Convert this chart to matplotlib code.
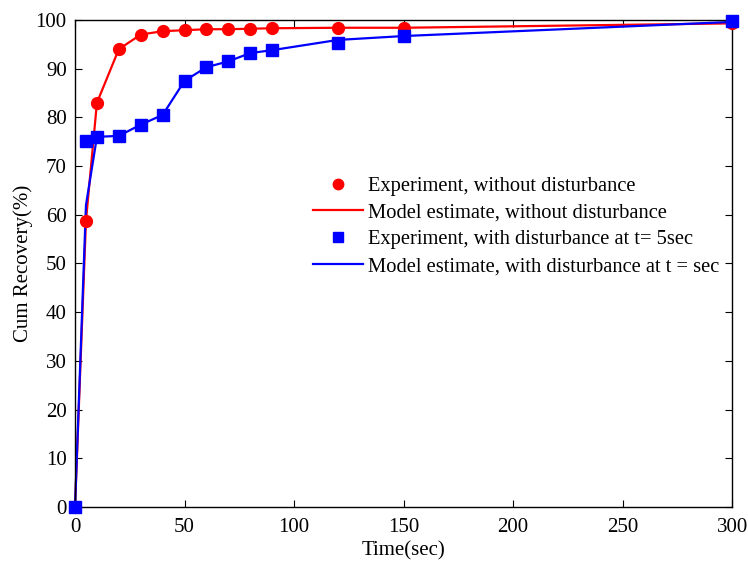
import matplotlib
matplotlib.use("Agg")
import matplotlib.pyplot as plt
from matplotlib.lines import Line2D

plt.rcParams['font.family'] = ['Liberation Serif', 'DejaVu Serif']

time = [0, 5, 10, 20, 30, 40, 50, 60, 70, 80, 90, 120, 150, 300]
exp_no_dist = [0, 58.8, 83, 94, 97, 97.7, 97.9, 98.1, 98.1, 98.2, 98.3, 98.4, 98.4, 99.3]
exp_dist = [0, 75.1, 76, 76.2, 78.5, 80.5, 87.5, 90.3, 91.5, 93.2, 93.8, 95.2, 96.7, 99.8]

model_time = [0, 5, 10, 20, 30, 40, 50, 60, 70, 80, 90, 120, 150, 300]
model_no_dist = [0, 58.8, 83, 94, 97, 97.7, 97.9, 98.1, 98.1, 98.2, 98.3, 98.4, 98.4, 99.3]
model_dist = [0, 62, 76, 76.2, 78.5, 80.5, 87.5, 90.3, 91.5, 93.2, 93.8, 95.9, 96.7, 99.6]

labels = ['Experiment, without disturbance',
          'Model estimate, without disturbance',
          'Experiment, with disturbance at t= 5sec',
          'Model estimate, with disturbance at t = sec']

fig = plt.figure(figsize=(7.48, 5.61), dpi=100)
ax = fig.add_axes([0.1003, 0.0963, 0.8784, 0.8681])

ax.plot(model_time, model_no_dist, color='red', lw=1.6, zorder=2, clip_on=False)
ax.plot(time, exp_no_dist, 'o', color='red', ms=8.5, zorder=3, clip_on=False)
ax.plot(model_time, model_dist, color='blue', lw=1.6, zorder=2, clip_on=False)
ax.plot(time, exp_dist, 's', color='blue', ms=9, zorder=3, clip_on=False)

ax.set_xlim(0, 300)
ax.set_ylim(0, 100)
ax.set_xticks([0, 50, 100, 150, 200, 250, 300])
ax.set_yticks(range(0, 101, 10))
ax.tick_params(direction='in', top=True, right=True, labelsize=15, length=5)
ax.tick_params(axis='x', pad=8)
ax.tick_params(axis='y', pad=6)
ax.set_xlabel('Time(sec)', fontsize=15, labelpad=3)
ax.set_ylabel('Cum Recovery(%)', fontsize=15, labelpad=2)
for s in ax.spines.values():
    s.set_linewidth(1.0)

handles = [Line2D([], [], ls='none', marker='o', color='red', ms=7.5),
           Line2D([], [], color='red', lw=1.6),
           Line2D([], [], ls='none', marker='s', color='blue', ms=6.5),
           Line2D([], [], color='blue', lw=1.6)]
ax.legend(handles, labels, loc='upper left', bbox_to_anchor=(0.405, 0.704),
          bbox_transform=fig.transFigure, frameon=False, fontsize=14.8,
          handlelength=2.4, handletextpad=0.25, labelspacing=0.36, borderpad=0)

fig.savefig('out.png', dpi=100)
